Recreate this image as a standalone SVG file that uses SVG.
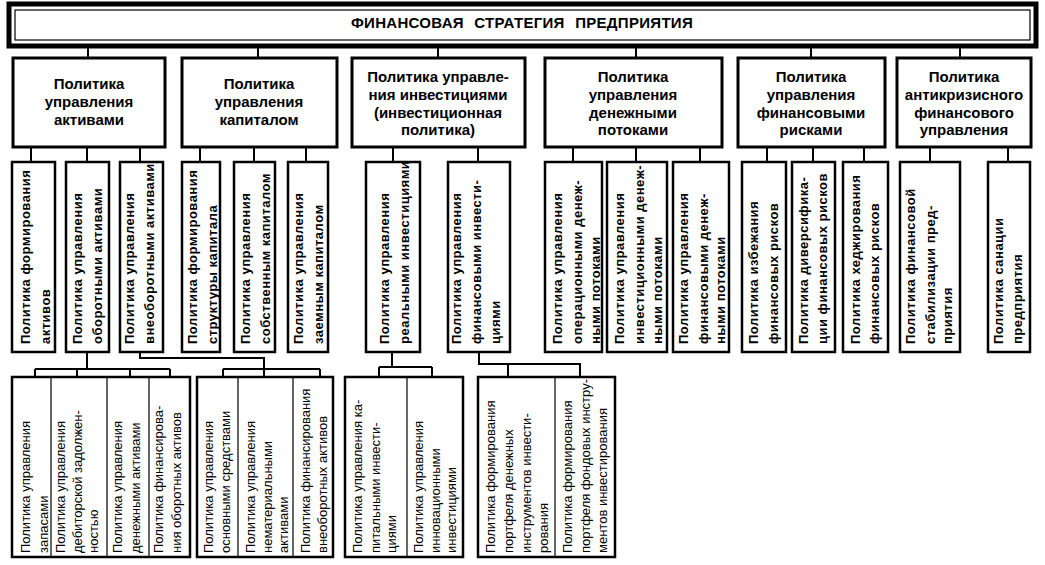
<svg xmlns="http://www.w3.org/2000/svg" width="1045" height="565" viewBox="0 0 1045 565">
<style>
.bg{fill:#fff}
.b1{fill:#fff;stroke:#000;stroke-width:5}
.b1i{fill:none;stroke:#000;stroke-width:1.2}
.b2{fill:#fff;stroke:#000;stroke-width:3}
.b3{fill:#fff;stroke:#000;stroke-width:2.5}
.b4{fill:#fff;stroke:#000;stroke-width:2.5}
.dv{stroke:#000;stroke-width:1.2}
.c{fill:none;stroke:#000;stroke-width:2}
.t1{font-family:"Liberation Sans",Arial,sans-serif;font-weight:bold;font-size:15px;letter-spacing:0.3px;word-spacing:6px;text-anchor:middle}
.t2{font-family:"Liberation Sans",Arial,sans-serif;font-weight:bold;font-size:15px;text-anchor:middle}
.t3{font-family:"Liberation Sans",Arial,sans-serif;font-weight:bold;font-size:13px;letter-spacing:0.5px}
.t4{font-family:"Liberation Sans",Arial,sans-serif;font-size:13px}
</style>
<rect class="bg" x="0" y="0" width="1045" height="565"/>

<g id="n-title">
  <rect class="b1" x="9" y="4" width="1027" height="42"/>
  <rect class="b1i" x="15" y="10" width="1015" height="30"/>
  <text class="t1" x="522" y="28">ФИНАНСОВАЯ СТРАТЕГИЯ ПРЕДПРИЯТИЯ</text>
</g>

<g id="n-assets">
  <rect class="b2" x="13" y="58" width="152" height="89"/>
  <text class="t2" x="89" y="89">Политика<tspan x="89" y="107">управления</tspan><tspan x="89" y="125">активами</tspan></text>
</g>
<g id="n-capital">
  <rect class="b2" x="182" y="58" width="155" height="89"/>
  <text class="t2" x="259" y="89">Политика<tspan x="259" y="107">управления</tspan><tspan x="259" y="125">капиталом</tspan></text>
</g>
<g id="n-invest">
  <rect class="b2" x="352" y="58" width="173" height="89" stroke-width="3.5"/>
  <text class="t2" x="438" y="82">Политика управле-<tspan x="438" y="100">ния инвестициями</tspan><tspan x="438" y="118">(инвестиционная</tspan><tspan x="438" y="135">политика)</tspan></text>
</g>
<g id="n-cash">
  <rect class="b2" x="545" y="58" width="177" height="89"/>
  <text class="t2" x="633" y="82">Политика<tspan x="633" y="100">управления</tspan><tspan x="633" y="118">денежными</tspan><tspan x="633" y="135">потоками</tspan></text>
</g>
<g id="n-risk">
  <rect class="b2" x="738" y="58" width="147" height="89"/>
  <text class="t2" x="811" y="82">Политика<tspan x="811" y="100">управления</tspan><tspan x="811" y="118">финансовыми</tspan><tspan x="811" y="135">рисками</tspan></text>
</g>
<g id="n-crisis">
  <rect class="b2" x="897" y="58" width="134" height="89"/>
  <text class="t2" x="964" y="82">Политика<tspan x="964" y="100">антикризисного</tspan><tspan x="964" y="118">финансового</tspan><tspan x="964" y="135">управления</tspan></text>
</g>

<g id="n-a">
  <rect class="b3" x="12" y="162" width="43" height="190"/>
  <text class="t3" transform="translate(30,344) rotate(-90)">Политика формирования<tspan x="0" y="20">активов</tspan></text>
</g>
<g id="n-b">
  <rect class="b3" x="66" y="162" width="43" height="190"/>
  <text class="t3" transform="translate(82,344) rotate(-90)">Политика управления<tspan x="0" y="20">оборотными активами</tspan></text>
</g>
<g id="n-c">
  <rect class="b3" x="120" y="162" width="43" height="190"/>
  <text class="t3" transform="translate(134,344) rotate(-90)">Политика управления<tspan x="0" y="20">внеоборотными активами</tspan></text>
</g>
<g id="n-d">
  <rect class="b3" x="182" y="162" width="38" height="190"/>
  <text class="t3" transform="translate(197,344) rotate(-90)">Политика формирования<tspan x="0" y="20">структуры капитала</tspan></text>
</g>
<g id="n-e">
  <rect class="b3" x="234" y="162" width="41" height="190"/>
  <text class="t3" transform="translate(250,344) rotate(-90)">Политика управления<tspan x="0" y="20">собственным капиталом</tspan></text>
</g>
<g id="n-f">
  <rect class="b3" x="288" y="162" width="40" height="190"/>
  <text class="t3" transform="translate(303,344) rotate(-90)">Политика управления<tspan x="0" y="20">заемным капиталом</tspan></text>
</g>
<g id="n-g">
  <rect class="b3" x="366" y="162" width="54" height="190"/>
  <text class="t3" transform="translate(389,344) rotate(-90)">Политика управления<tspan x="0" y="20">реальными инвестициями</tspan></text>
</g>
<g id="n-h">
  <rect class="b3" x="448" y="162" width="62" height="190"/>
  <text class="t3" transform="translate(461,344) rotate(-90)">Политика управления<tspan x="0" y="20">финансовыми инвести-</tspan><tspan x="0" y="39">циями</tspan></text>
</g>
<g id="n-i">
  <rect class="b3" x="545" y="162" width="57" height="190"/>
  <text class="t3" transform="translate(562,344) rotate(-90)">Политика управления<tspan x="0" y="20">операционными денеж-</tspan><tspan x="0" y="38">ными потоками</tspan></text>
</g>
<g id="n-j">
  <rect class="b3" x="607" y="162" width="60" height="190"/>
  <text class="t3" transform="translate(624,344) rotate(-90)">Политика управления<tspan x="0" y="20">инвестиционными денеж-</tspan><tspan x="0" y="38">ными потоками</tspan></text>
</g>
<g id="n-k">
  <rect class="b3" x="673" y="162" width="56" height="190"/>
  <text class="t3" transform="translate(688,344) rotate(-90)">Политика управления<tspan x="0" y="20">финансовыми денеж-</tspan><tspan x="0" y="37">ными потоками</tspan></text>
</g>
<g id="n-l">
  <rect class="b3" x="742" y="162" width="44" height="190"/>
  <text class="t3" transform="translate(758,344) rotate(-90)">Политика избежания<tspan x="0" y="20">финансовых рисков</tspan></text>
</g>
<g id="n-m">
  <rect class="b3" x="792" y="162" width="43" height="190"/>
  <text class="t3" transform="translate(808,344) rotate(-90)">Политика диверсифика-<tspan x="0" y="19">ции финансовых рисков</tspan></text>
</g>
<g id="n-n">
  <rect class="b3" x="843" y="162" width="45" height="190"/>
  <text class="t3" transform="translate(860,344) rotate(-90)">Политика хеджирования<tspan x="0" y="19">финансовых рисков</tspan></text>
</g>
<g id="n-o">
  <rect class="b3" x="900" y="162" width="60" height="190"/>
  <text class="t3" transform="translate(915,344) rotate(-90)">Политика финансовой<tspan x="0" y="20">стабилизации пред-</tspan><tspan x="0" y="37">приятия</tspan></text>
</g>
<g id="n-p">
  <rect class="b3" x="988" y="162" width="42" height="190"/>
  <text class="t3" transform="translate(1003,344) rotate(-90)">Политика санации<tspan x="0" y="19">предприятия</tspan></text>
</g>

<g id="n-groupA">
  <rect class="b4" x="12" y="377" width="178" height="180"/>
  <path class="dv" d="M51 377V557M107 377V557M149 377V557"/>
  <text class="t4" transform="translate(30,553) rotate(-90)">Политика управления<tspan x="0" y="18">запасами</tspan></text>
  <text class="t4" transform="translate(65,553) rotate(-90)">Политика управления<tspan x="0" y="17">дебиторской задолжен-</tspan><tspan x="0" y="33">ностью</tspan></text>
  <text class="t4" transform="translate(122,553) rotate(-90)">Политика управления<tspan x="0" y="18">денежными активами</tspan></text>
  <text class="t4" transform="translate(163,553) rotate(-90)">Политика финансирова-<tspan x="0" y="18">ния оборотных активов</tspan></text>
</g>
<g id="n-groupB">
  <rect class="b4" x="197" y="377" width="136" height="180"/>
  <path class="dv" d="M238 377V557M293 377V557"/>
  <text class="t4" transform="translate(213,553) rotate(-90)">Политика управления<tspan x="0" y="17">основными средствами</tspan></text>
  <text class="t4" transform="translate(255,553) rotate(-90)">Политика управления<tspan x="0" y="17">нематериальными</tspan><tspan x="0" y="33">активами</tspan></text>
  <text class="t4" transform="translate(310,553) rotate(-90)">Политика финансирования<tspan x="0" y="17">внеоборотных активов</tspan></text>
</g>
<g id="n-groupC">
  <rect class="b4" x="345" y="377" width="118" height="180"/>
  <path class="dv" d="M407 377V557"/>
  <text class="t4" transform="translate(362,553) rotate(-90)">Политика управления ка-<tspan x="0" y="18">питальными инвести-</tspan><tspan x="0" y="34">циями</tspan></text>
  <text class="t4" transform="translate(423,553) rotate(-90)">Политика управления<tspan x="0" y="17">инновационными</tspan><tspan x="0" y="33">инвестициями</tspan></text>
</g>
<g id="n-groupD">
  <rect class="b4" x="478" y="377" width="137" height="180"/>
  <path class="dv" d="M555 377V557"/>
  <text class="t4" transform="translate(495,553) rotate(-90)">Политика формирования<tspan x="0" y="18">портфеля денежных</tspan><tspan x="0" y="36">инструментов инвести-</tspan><tspan x="0" y="53">рования</tspan></text>
  <text class="t4" transform="translate(572,553) rotate(-90)">Политика формирования<tspan x="0" y="18">портфеля фондовых инстру-</tspan><tspan x="0" y="35">ментов инвестирования</tspan></text>
</g>

<g id="connectors">
  <path class="c" d="M88 48V57M258 48V57M438 48V57M636 48V57M811 48V57M960 48V57"/>
  <path class="c" d="M31 148V161M87 148V161M140 148V161M200 148V161M254 148V161M306 148V161M393 148V161M478 148V161M573 148V161M636 148V161M700 148V161M767 148V161M813 148V161M864 148V161M930 148V161M1008 148V161"/>
  <path class="c" d="M87 353V369M35 369H170M35 369V376M77 369V376M130 369V376M170 369V376"/>
  <path class="c" d="M140 353V358H264V369M223 369H320M223 369V376M264 369V376M320 369V376"/>
  <path class="c" d="M392 353V367M379 367H432M379 367V376M432 367V376"/>
  <path class="c" d="M479 353V364H580V376M508 364V376"/>
</g>
</svg>
